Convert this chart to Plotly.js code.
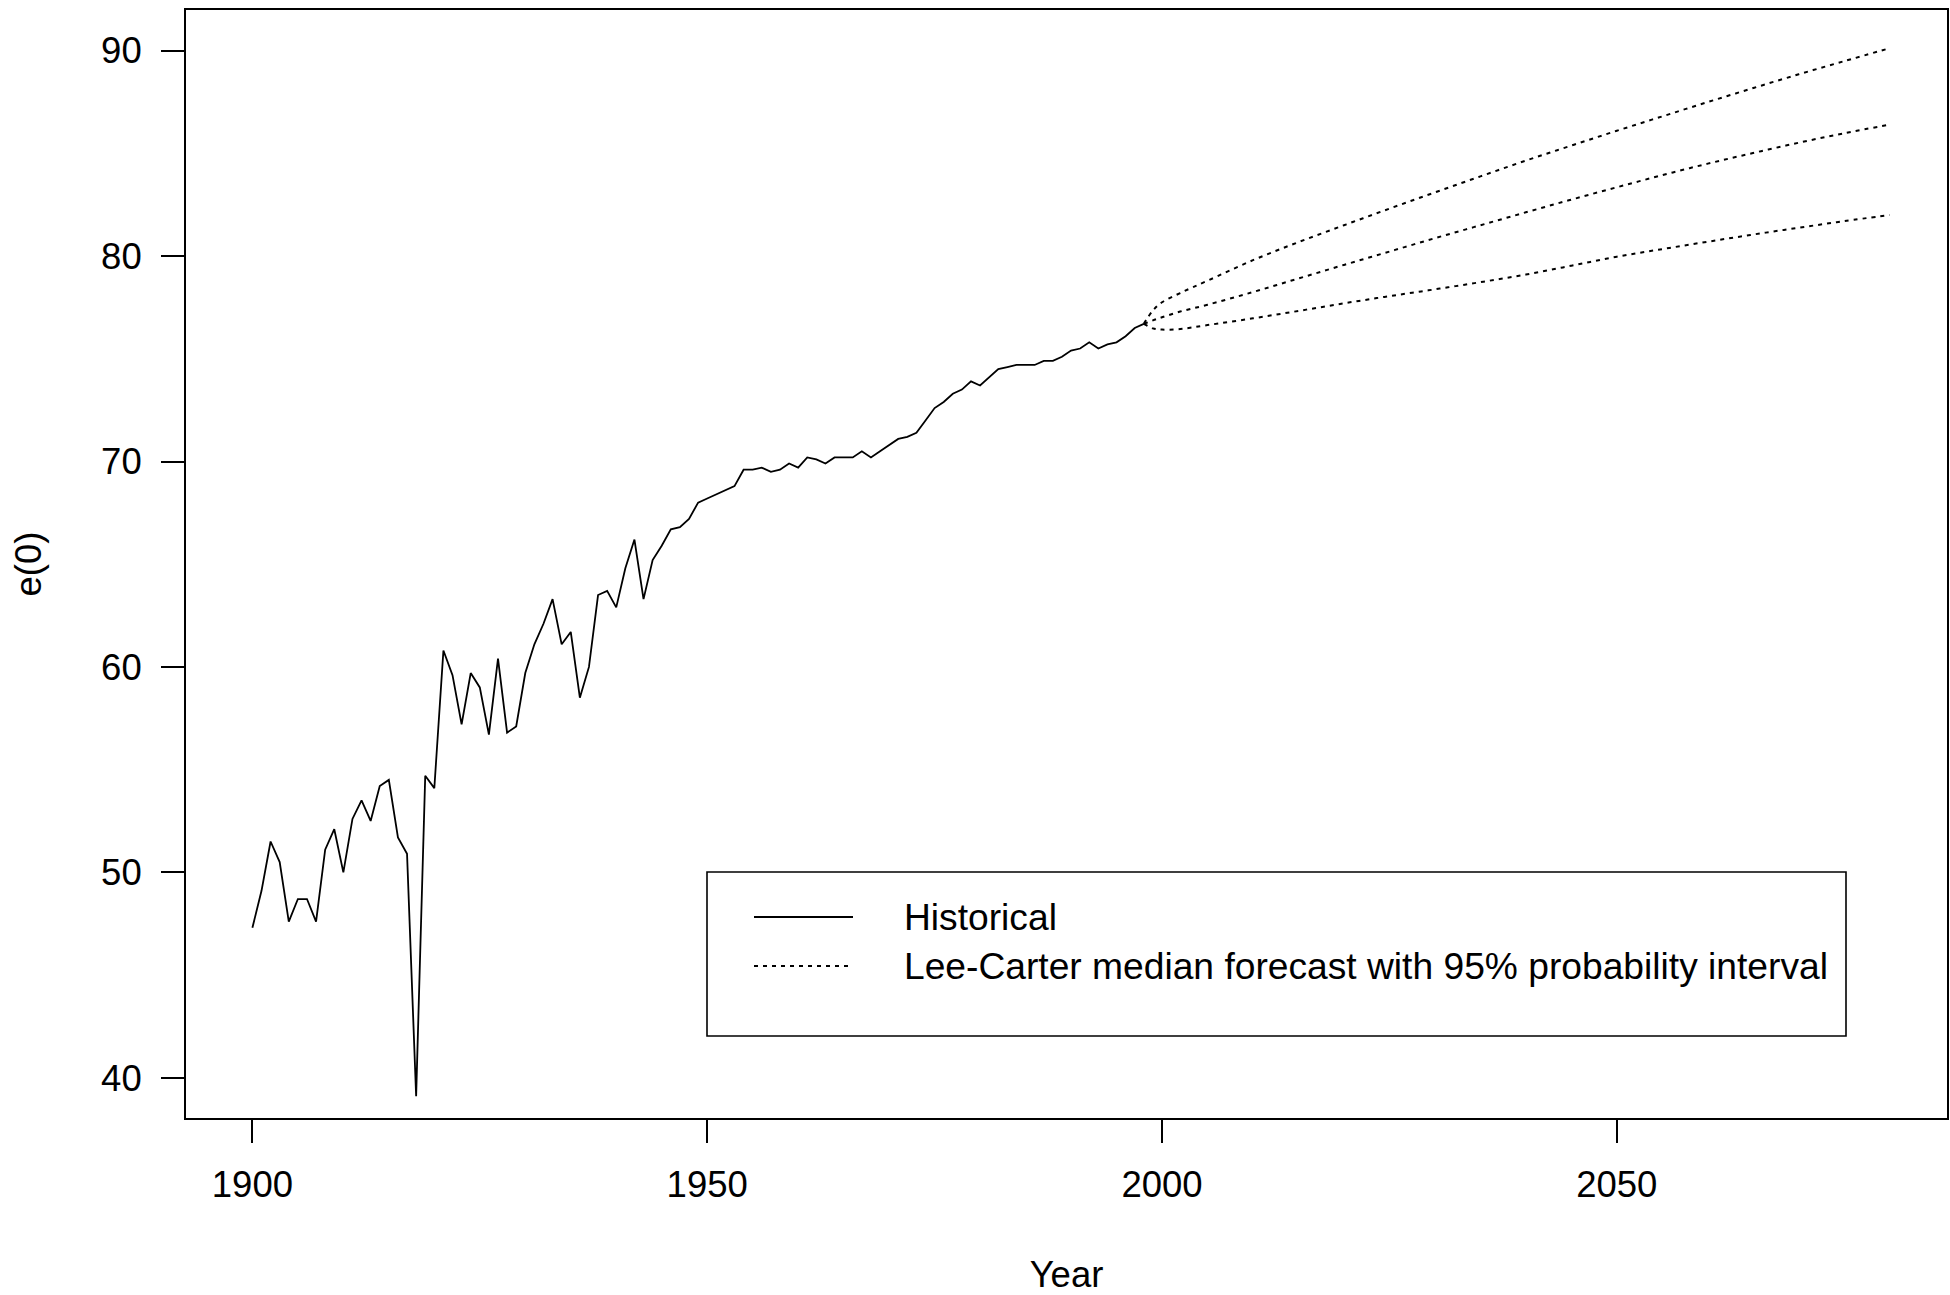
<!DOCTYPE html>
<html>
<head>
<meta charset="utf-8">
<script src="https://cdn.plot.ly/plotly-3.0.1.min.js"></script>
<style>
  html, body { margin: 0; padding: 0; background: #ffffff; }
  #chart { width: 1950px; height: 1295px; }
</style>
</head>
<body>
<div id="chart"></div>
<script>
// ---- Data ----
var histYears = [];
for (var yr = 1900; yr <= 1998; yr++) histYears.push(yr);
var histE0 = [
  47.3, 49.1, 51.5, 50.5, 47.6, 48.7, 48.7, 47.6, 51.1, 52.1,
  50.0, 52.6, 53.5, 52.5, 54.2, 54.5, 51.7, 50.9, 39.1, 54.7,
  54.1, 60.8, 59.6, 57.2, 59.7, 59.0, 56.7, 60.4, 56.8, 57.1,
  59.7, 61.1, 62.1, 63.3, 61.1, 61.7, 58.5, 60.0, 63.5, 63.7,
  62.9, 64.8, 66.2, 63.3, 65.2, 65.9, 66.7, 66.8, 67.2, 68.0,
  68.2, 68.4, 68.6, 68.8, 69.6, 69.6, 69.7, 69.5, 69.6, 69.9,
  69.7, 70.2, 70.1, 69.9, 70.2, 70.2, 70.2, 70.5, 70.2, 70.5,
  70.8, 71.1, 71.2, 71.4, 72.0, 72.6, 72.9, 73.3, 73.5, 73.9,
  73.7, 74.1, 74.5, 74.6, 74.7, 74.7, 74.7, 74.9, 74.9, 75.1,
  75.4, 75.5, 75.8, 75.5, 75.7, 75.8, 76.1, 76.5, 76.7
];

var fcYears = [1998, 1999, 2000, 2002, 2005, 2010, 2015, 2020, 2025, 2030,
               2035, 2040, 2045, 2050, 2055, 2060, 2065, 2070, 2075, 2080];
var fcUpper = [76.7, 77.35, 77.75, 78.2, 78.8, 79.8, 80.68, 81.5, 82.31, 83.1,
               83.88, 84.65, 85.38, 86.1, 86.8, 87.5, 88.18, 88.85, 89.49, 90.12];
var fcMedian = [76.7, 76.87, 77.02, 77.3, 77.63, 78.25, 78.91, 79.57, 80.22, 80.87,
                81.5, 82.13, 82.75, 83.35, 83.94, 84.5, 85.02, 85.52, 85.98, 86.4];
var fcLower = [76.7, 76.48, 76.42, 76.45, 76.64, 76.97, 77.33, 77.7, 78.05, 78.38,
               78.73, 79.1, 79.53, 79.97, 80.34, 80.7, 81.05, 81.38, 81.7, 82.0];

var xTicks = [1900, 1950, 2000, 2050];
var yTicks = [40, 50, 60, 70, 80, 90];
var legendLabels = ['Historical', 'Lee-Carter median forecast with 95% probability interval'];

// ---- Style ----
var FONT = 'Liberation Sans, Arial, Helvetica, sans-serif';
var FS = 36.5;
var LFS = 37.2;
var DOT = '4px,5px';

var M = {l: 186, r: 3, t: 10, b: 177};
var W = 1950, H = 1295;
var PW = W - M.l - M.r, PH = H - M.t - M.b;
function px(x) { return (x - M.l) / PW; }
function py(y) { return (H - M.b - y) / PH; }

var traces = [
  {x: histYears, y: histE0, type: 'scatter', mode: 'lines', name: legendLabels[0],
   line: {color: '#000', width: 1.8}, showlegend: false, hoverinfo: 'x+y'},
  {x: fcYears, y: fcUpper, type: 'scatter', mode: 'lines', name: 'Upper 95%',
   line: {color: '#000', width: 2, dash: DOT, shape: 'spline', smoothing: 1}, showlegend: false},
  {x: fcYears, y: fcMedian, type: 'scatter', mode: 'lines', name: 'Median',
   line: {color: '#000', width: 2, dash: DOT, shape: 'spline', smoothing: 1}, showlegend: false},
  {x: fcYears, y: fcLower, type: 'scatter', mode: 'lines', name: 'Lower 95%',
   line: {color: '#000', width: 2, dash: DOT, shape: 'spline', smoothing: 1}, showlegend: false}
];

// manual R-style legend
var lg = {x0: 707, x1: 1846, y0: 872, y1: 1036, sx0: 754, sx1: 853, tx: 902, r1: 917, r2: 966};
var shapes = [
  {type: 'rect', xref: 'paper', yref: 'paper', x0: px(lg.x0), x1: px(lg.x1), y0: py(lg.y1), y1: py(lg.y0),
   line: {color: '#000', width: 1.6}, fillcolor: 'rgba(255,255,255,0)'},
  {type: 'line', xref: 'paper', yref: 'paper', x0: px(lg.sx0), x1: px(lg.sx1), y0: py(lg.r1), y1: py(lg.r1),
   line: {color: '#000', width: 1.8}},
  {type: 'line', xref: 'paper', yref: 'paper', x0: px(lg.sx0), x1: px(lg.sx1), y0: py(lg.r2), y1: py(lg.r2),
   line: {color: '#000', width: 2, dash: DOT}}
];
var annotations = [
  {xref: 'paper', yref: 'paper', x: px(lg.tx), y: py(lg.r1), xanchor: 'left', yanchor: 'middle',
   text: legendLabels[0], showarrow: false, font: {family: FONT, size: LFS, color: '#000'}},
  {xref: 'paper', yref: 'paper', x: px(lg.tx), y: py(lg.r2), xanchor: 'left', yanchor: 'middle',
   text: legendLabels[1], showarrow: false, font: {family: FONT, size: LFS, color: '#000'}}
];

var axisCommon = {
  showgrid: false, zeroline: false,
  showline: true, mirror: true, linecolor: '#000', linewidth: 2,
  ticks: 'outside', ticklen: 23, tickwidth: 2, tickcolor: '#000',
  tickfont: {family: FONT, size: FS, color: '#000'},
  automargin: false, fixedrange: true
};

var layout = {
  width: W, height: H,
  margin: {l: M.l, r: M.r, t: M.t, b: M.b, pad: 0},
  paper_bgcolor: '#fff', plot_bgcolor: '#fff',
  font: {family: FONT, size: FS, color: '#000'},
  showlegend: false,
  xaxis: Object.assign({}, axisCommon, {
    range: [1892.7, 2086.3], tickmode: 'array', tickvals: xTicks, ticktext: xTicks.map(String),
    ticklabelstandoff: 10,
    title: {text: 'Year', font: {family: FONT, size: FS, color: '#000'}, standoff: 60}
  }),
  yaxis: Object.assign({}, axisCommon, {
    range: [38.04, 91.98], tickmode: 'array', tickvals: yTicks, ticktext: yTicks.map(String),
    ticklabelstandoff: 12,
    title: {text: 'e(0)', font: {family: FONT, size: FS, color: '#000'}, standoff: 48}
  }),
  shapes: shapes,
  annotations: annotations
};

Plotly.newPlot('chart', traces, layout, {displayModeBar: false, staticPlot: true});
</script>
</body>
</html>
